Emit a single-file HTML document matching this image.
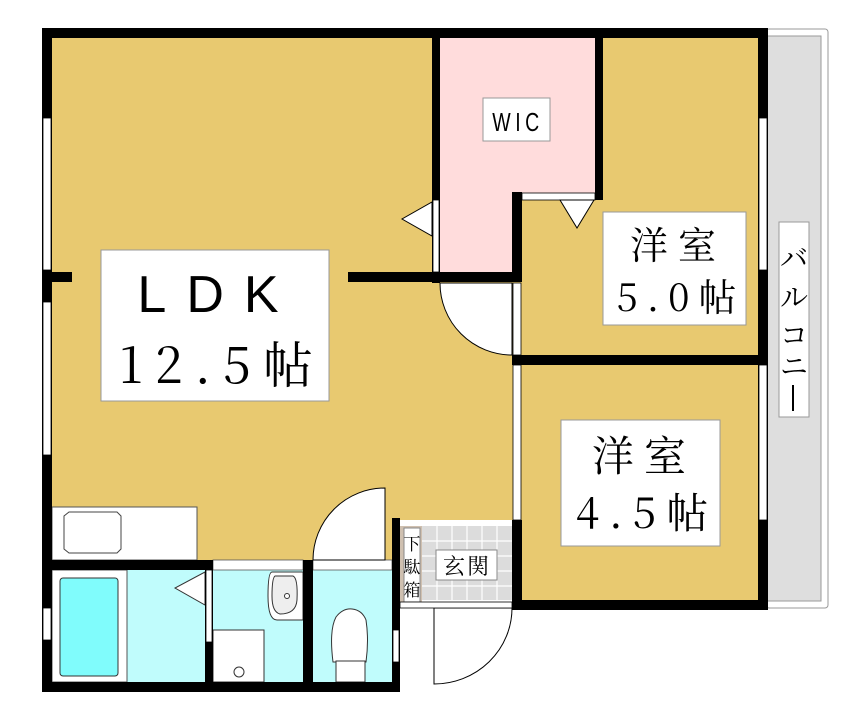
<!DOCTYPE html>
<html><head><meta charset="utf-8"><style>
body{margin:0;background:#fff}
svg{display:block}
text{font-family:"Liberation Sans","Noto Sans CJK JP",sans-serif;fill:#000}
.m{font-family:"Noto Serif CJK SC","Noto Sans CJK JP",serif}
</style></head><body>
<svg width="864" height="721" viewBox="0 0 864 721" xmlns="http://www.w3.org/2000/svg">
<rect x="766" y="29" width="62" height="579" fill="#fff" stroke="#999" stroke-width="1" rx="3"/>
<rect x="766" y="36" width="55" height="565" fill="#dedede" stroke="#999" stroke-width="1"/>
<rect x="779" y="222" width="30" height="195" fill="#fff" stroke="#999"/>
<text class="m" x="794" y="268" font-size="28" text-anchor="middle">バ</text>
<text class="m" x="794" y="307" font-size="28" text-anchor="middle">ル</text>
<text class="m" x="794" y="345" font-size="28" text-anchor="middle">コ</text>
<text class="m" x="794" y="376" font-size="28" text-anchor="middle">ニ</text>
<rect x="792" y="385" width="2" height="26" fill="#000"/>
<rect x="47" y="33" width="716" height="572" fill="#e8c970"/>
<rect x="436" y="33" width="163" height="163" fill="#ffdcdc"/>
<rect x="436" y="190" width="81" height="87" fill="#ffdcdc"/>
<rect x="47" y="565" width="348" height="122" fill="#c0fcfc"/>
<rect x="52" y="570" width="75" height="112" fill="#fff" stroke="#555"/>
<rect x="60" y="578" width="58" height="98" rx="3" fill="#80fcfc" stroke="#333"/>
<rect x="52" y="507" width="145" height="53" fill="#fff" stroke="#555"/>
<path d="M69 512 H117 L121 516 V549 L117 553 H69 L64 549 V516 Z" fill="#fff" stroke="#444"/>
<rect x="213" y="630" width="51" height="52" fill="#fff" stroke="#333"/>
<circle cx="239" cy="672" r="5" fill="#fff" stroke="#333"/>
<path d="M272 572 H303 V620 H277 Q268 620 268 596 Q268 572 272 572Z" fill="#fff" stroke="#333"/>
<path d="M275 576 H293 Q298 578 297 600 Q296 614 280 614 Q272 612 272 596 Q272 578 275 576Z" fill="#eee" stroke="#333"/>
<circle cx="287" cy="596" r="2.5" fill="#fff" stroke="#333"/>
<rect x="213" y="560" width="90" height="10" fill="#fff" stroke="#555" stroke-width="0.8"/>
<rect x="313" y="560" width="79" height="10" fill="#fff" stroke="#555" stroke-width="0.8"/>
<path d="M333 662 Q329 630 336 617 Q343 608 352 609 Q362 610 366 620 Q369 640 366 662Z" fill="#fff" stroke="#333"/>
<rect x="336" y="661" width="29" height="21" fill="#fff" stroke="#333"/>
<polygon points="205,572 205,605 175,588" fill="#fff" stroke="#333"/>
<rect x="400" y="520" width="112" height="82" fill="#fff"/>
<rect x="422" y="526" width="90" height="74" fill="#dcdcdc"/>
<g stroke="#fff" stroke-width="1.2">
<line x1="422" y1="541" x2="512" y2="541"/><line x1="422" y1="556" x2="512" y2="556"/><line x1="422" y1="571" x2="512" y2="571"/><line x1="422" y1="586" x2="512" y2="586"/>
<line x1="437" y1="526" x2="437" y2="600"/><line x1="452" y1="526" x2="452" y2="600"/><line x1="467" y1="526" x2="467" y2="600"/><line x1="482" y1="526" x2="482" y2="600"/><line x1="497" y1="526" x2="497" y2="600"/>
</g>
<rect x="400" y="526" width="22" height="76" fill="#cfc0b0"/>
<rect x="404" y="528" width="16" height="74" fill="#fff" stroke="#888"/>
<text class="m" x="412" y="550" font-size="17" text-anchor="middle">下</text>
<text class="m" x="412" y="573" font-size="17" text-anchor="middle">駄</text>
<text class="m" x="412" y="596" font-size="17" text-anchor="middle">箱</text>
<rect x="436" y="550" width="61" height="30" fill="#fff" stroke="#888"/>
<text class="m" x="467" y="574" font-size="22" text-anchor="middle" letter-spacing="2">玄関</text>
<path d="M385 488 V560 H313 A72 72 0 0 1 385 488Z" fill="#fff" stroke="#000"/>
<path d="M434 608 V684 A78 76 0 0 0 512 608Z" fill="#fff" stroke="#000"/>
<path d="M440 283 H512 V355 A72 72 0 0 1 440 283Z" fill="#fff" stroke="#000"/>
<g fill="#000">
<rect x="42" y="28" width="726" height="10"/>
<rect x="42" y="28" width="10" height="664"/>
<rect x="758" y="28" width="10" height="580"/>
<rect x="42" y="682" width="358" height="10"/>
<rect x="42" y="560" width="171" height="10"/>
<rect x="303" y="560" width="10" height="132"/>
<rect x="205" y="570" width="8" height="122"/>
<rect x="392" y="518" width="8" height="174"/>
<rect x="432" y="28" width="8" height="255"/>
<rect x="595" y="28" width="8" height="172"/>
<rect x="42" y="272" width="30" height="10"/>
<rect x="348" y="272" width="174" height="10"/>
<rect x="512" y="192" width="10" height="90"/>
<rect x="512" y="355" width="256" height="10"/>
<rect x="512" y="520" width="10" height="90"/>
<rect x="512" y="600" width="256" height="10"/>
</g>
<rect x="43" y="118" width="8" height="152" fill="#fff" stroke="#000" stroke-width="0.8"/>
<rect x="43" y="302" width="8" height="153" fill="#fff" stroke="#000" stroke-width="0.8"/>
<rect x="43" y="608" width="8" height="32" fill="#fff" stroke="#000" stroke-width="0.8"/>
<rect x="393" y="630" width="6" height="32" fill="#fff" stroke="#000" stroke-width="0.8"/>
<rect x="206" y="570" width="6" height="72" fill="#fff" stroke="#000" stroke-width="0.8"/>
<rect x="759" y="118" width="8" height="152" fill="#fff" stroke="#000" stroke-width="0.8"/>
<rect x="759" y="365" width="8" height="155" fill="#fff" stroke="#000" stroke-width="0.8"/>
<rect x="513" y="365" width="8" height="155" fill="#fff" stroke="#000" stroke-width="0.8"/>
<rect x="433" y="200" width="6" height="72" fill="#fff" stroke="#000" stroke-width="0.8"/>
<rect x="513" y="283" width="8" height="72" fill="#fff" stroke="#000" stroke-width="0.8"/>
<rect x="522" y="193" width="73" height="7" fill="#fff" stroke="#000" stroke-width="0.8"/>
<rect x="400" y="602" width="112" height="6" fill="#fff" stroke="#000" stroke-width="0.8"/>
<polygon points="432,202 432,236 402,219" fill="#fff" stroke="#000"/>
<polygon points="560,200 594,200 577,228" fill="#fff" stroke="#000"/>
<rect x="101" y="250" width="228" height="151" fill="#fff" stroke="#999"/>
<text x="218" y="312" font-size="52" text-anchor="middle" letter-spacing="20">LDK</text>
<text class="m" x="222" y="383" font-size="50" text-anchor="middle" letter-spacing="12">12.5帖</text>
<rect x="603" y="212" width="143" height="113" fill="#fff" stroke="#999"/>
<text class="m" x="678" y="259" font-size="38" text-anchor="middle" letter-spacing="10">洋室</text>
<text class="m" x="681" y="311" font-size="38" text-anchor="middle" letter-spacing="9">5.0帖</text>
<rect x="561" y="420" width="159" height="126" fill="#fff" stroke="#999"/>
<text class="m" x="644" y="471" font-size="42" text-anchor="middle" letter-spacing="10">洋室</text>
<text class="m" x="647" y="528" font-size="42" text-anchor="middle" letter-spacing="10">4.5帖</text>
<rect x="483" y="98" width="67" height="43" fill="#fff" stroke="#999"/>
<text x="518" y="131" font-size="26" text-anchor="middle" letter-spacing="6" transform="translate(518 0) scale(0.75 1) translate(-518 0)">WIC</text>
</svg>
</body></html>
